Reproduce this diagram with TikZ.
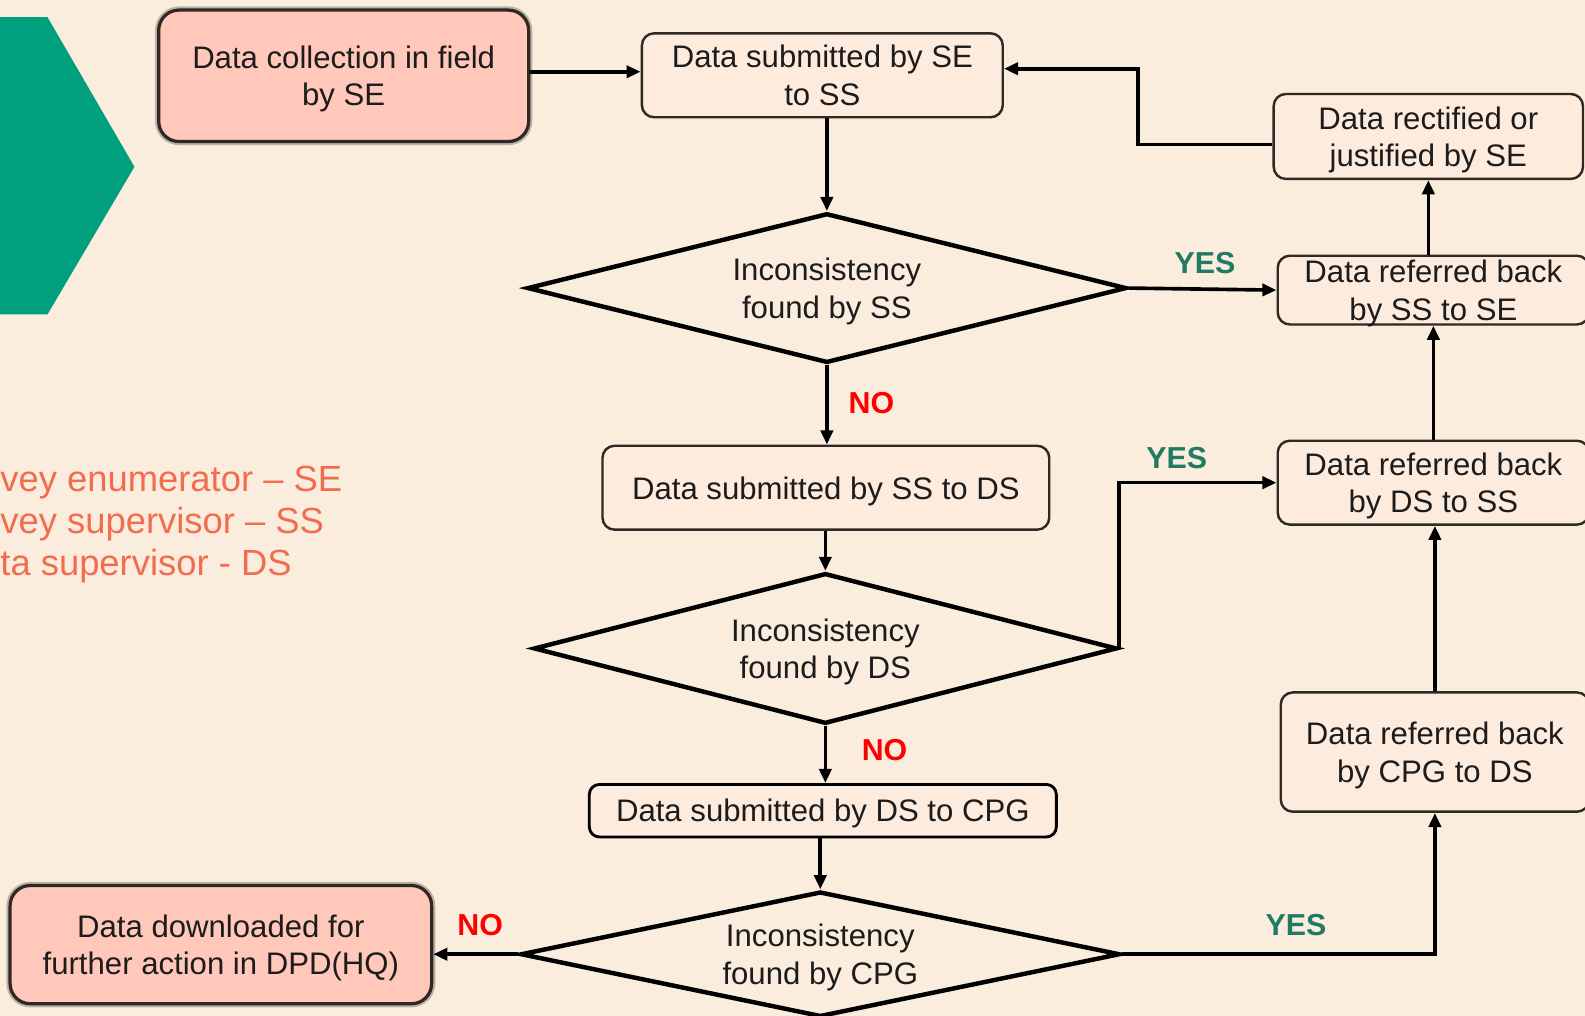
\documentclass[tikz,border=0pt]{standalone}
\usepackage{fontspec}
\setmainfont{Liberation Sans}
\usetikzlibrary{shapes.geometric,arrows.meta}

\definecolor{paper}{RGB}{251,237,221}
\definecolor{boxfill}{RGB}{253,235,222}
\definecolor{pinkfill}{RGB}{255,200,186}
\definecolor{edge}{RGB}{48,40,36}
\definecolor{tealmark}{RGB}{0,160,126}
\definecolor{yesgreen}{RGB}{32,122,100}
\definecolor{legendred}{RGB}{242,108,80}
\definecolor{inkgray}{RGB}{28,28,28}

\tikzset{
  sz/.style 2 args={minimum width={#1*0.5pt}, minimum height={#2*0.5pt}},
  stepbox/.style={draw=edge, line width=1.2pt, fill=boxfill, rounded corners=6pt,
    align=center, inner sep=0pt, text depth=0pt},
  plainbox/.style={stepbox, draw=black, line width=1.4pt, rounded corners=5pt},
  pinkbox/.style={draw=edge, line width=1.6pt, fill=pinkfill, rounded corners=10pt,
    align=center, inner sep=0pt, text depth=0pt,
    preaction={draw=black, draw opacity=0.25, line width=3.6pt}},
  decision/.style={diamond, aspect=4, draw=black, line width=2.2pt, fill=paper,
    align=center, inner sep=0pt, text depth=0pt},
  arr/.style={draw=black, line width=1.8pt, -{Triangle[length=7pt,width=6pt]}},
  nolbl/.style={font=\fontsize{15}{18}\selectfont\bfseries, text=red},
  yeslbl/.style={font=\fontsize{15}{18}\selectfont\bfseries, text=yesgreen},
  legend/.style={font=\fontsize{18}{20.8}\selectfont, text=legendred, align=left, inner sep=0pt}
}

\begin{document}
\begin{tikzpicture}[x=0.5pt,y=-0.5pt,
  every node/.style={font=\fontsize{15.4}{18.5}\selectfont, text=inkgray}]
% page and background
\useasboundingbox (0,0) rectangle (1568,1005);
\clip (0,0) rectangle (1568,1005);
\fill[paper] (0,0) rectangle (1568,1005);

% green chevron on the left
\fill[tealmark] (-5,17) -- (47,17) -- (133,165) -- (47,311) -- (-5,311) -- cycle;

% legend of abbreviations
\node[legend, anchor=west] (key) at (0,519) {vey enumerator – SE\\vey supervisor – SS\\ta supervisor - DS};

% main column
\node[pinkbox, sz={366}{130}] (collect) at (340,75) {Data collection in field\\by SE};
\node[stepbox, sz={357}{83}] (sub1) at (813.5,74.5) {Data submitted by SE\\to SS};
\node[decision, sz={593}{148}] (dia1) at (818,285) {Inconsistency\\found by SS};
\node[stepbox, sz={442}{83}] (sub2) at (817,482.5) {Data submitted by SS to DS};
\node[decision, sz={577}{149}] (dia2) at (816.5,641.5) {Inconsistency\\found by DS};
\node[plainbox, sz={462}{52}] (sub3) at (814,802) {Data submitted by DS to CPG};
\node[decision, sz={593}{124}] (dia3) at (811.5,944) {Inconsistency\\found by CPG};
\node[pinkbox, sz={417}{117}] (down) at (218.5,934.5) {Data downloaded for\\further action in DPD(HQ)};

% right column
\node[stepbox, sz={306}{84}] (fix) at (1413,135) {Data rectified or\\justified by SE};
\node[stepbox, sz={308}{68}] (backSE) at (1418,287) {Data referred back\\by SS to SE};
\node[stepbox, sz={308}{83}] (backSS) at (1418,477.5) {Data referred back\\by DS to SS};
\node[stepbox, sz={305}{118}] (backDS) at (1419.5,744) {Data referred back\\by CPG to DS};

% bends of the connectors
\coordinate (feed) at (0,71);
\coordinate (loopA) at (1126,143);
\coordinate (loopB) at (1126,68);

% connectors
\draw[arr] (collect.east |- feed) -- (sub1.west |- feed);
\draw[arr] (fix.west |- loopA) -- (loopA) -- (loopB) -- (loopB -| sub1.east);
\draw[arr] (dia1.north |- sub1.south) -- (dia1.north);
\draw[arr] (dia1.south) -- (dia1.south |- sub2.north);
\draw[arr] (dia1.east) -- (backSE.west);
\draw[arr] (fix.south |- backSE.north) -- (fix.south);
\draw[arr] (dia2.north |- sub2.south) -- (dia2.north);
\draw[arr] (dia2.east) |- (backSS.west);
\draw[arr] (backSS.north) -- (backSS.north |- backSE.south);
\draw[arr] (dia2.south) -- (dia2.south |- sub3.north);
\draw[arr] (dia3.north |- sub3.south) -- (dia3.north);
\draw[arr] (dia3.west) -- (dia3.west -| down.east);
\draw[arr] (dia3.east) -| (backDS.south);
\draw[arr] (backDS.north) -- (backDS.north |- backSS.south);

% branch labels
\node[nolbl] (noSS) at (862,399) {NO};
\node[nolbl] (noDS) at (875,742) {NO};
\node[nolbl] (noCPG) at (475,915) {NO};
\node[yeslbl] (yesSS) at (1192,260) {YES};
\node[yeslbl] (yesDS) at (1164,453) {YES};
\node[yeslbl] (yesCPG) at (1282,915) {YES};
\end{tikzpicture}
\end{document}
